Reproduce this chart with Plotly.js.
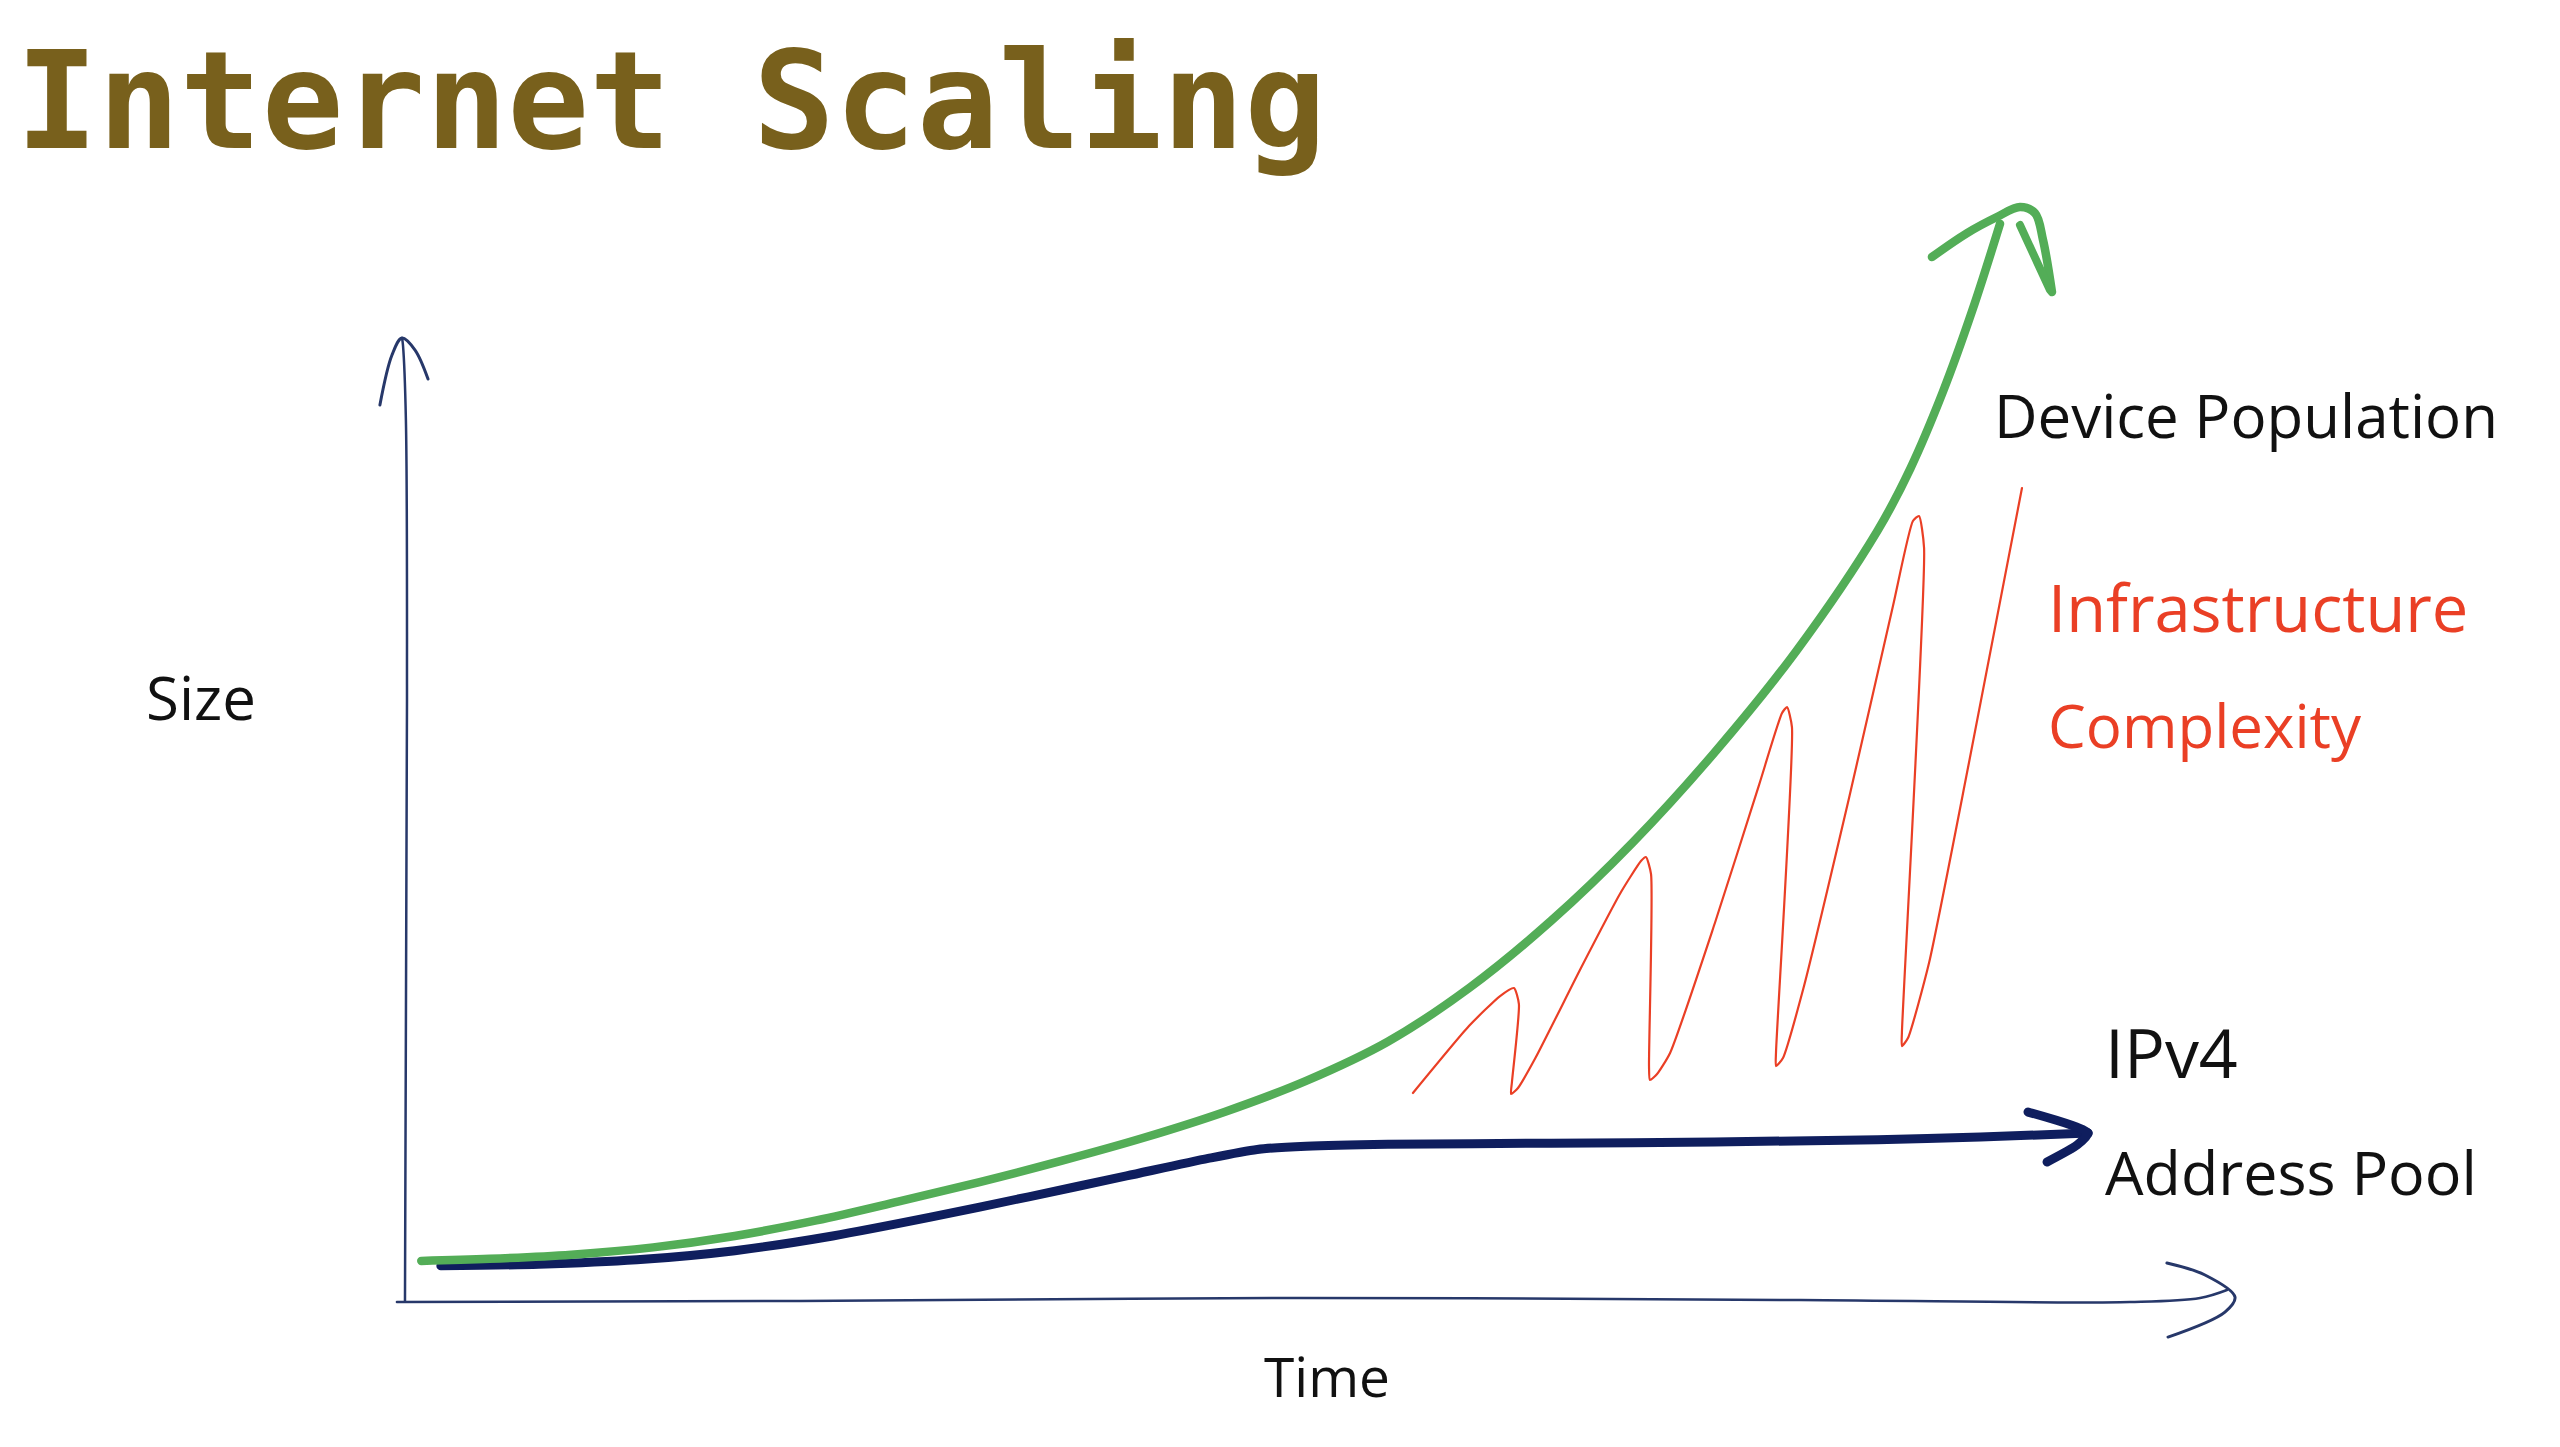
<!DOCTYPE html>
<html>
<head>
<meta charset="utf-8">
<script src="https://cdn.plot.ly/plotly-3.0.1.min.js"></script>
<style>
  html, body { margin: 0; padding: 0; background: #ffffff; }
  #chart { width: 2560px; height: 1447px; }
  .scatterlayer path.js-line { stroke-linecap: round; stroke-linejoin: round; }
</style>
</head>
<body>
<div id="chart"></div>
<script>
// ---- Sketch data (time 0..100 along the x arrow, size 0..100 up the y arrow) ----
const sizeAxisX = [0, 0.11, 0.05, -0.11, -0.16];
const sizeAxisY = [-0.10, 62.37, 91.48, 99.27, 100];
const sizeHeadX = [-1.37, -0.71, -0.16, 0.55, 1.26];
const sizeHeadY = [93.04, 98.23, 100, 98.75, 95.74];

const timeAxisX = [-0.44, 21.58, 48.91, 76.23, 94.26, 98.09, 99.56];
const timeAxisY = [-0.21, -0.10, 0.21, 0, -0.21, 0.21, 1.04];
const timeHeadX = [96.28, 98.36, 100, 99.45, 96.34];
const timeHeadY = [3.85, 2.60, 0.31, -1.25, -3.85];

// Device population (green)
const deviceT = [0.89, 4.63, 9.09, 13.56, 18.02, 22.48, 26.94, 31.40, 35.86, 40.32, 44.78, 49.24, 53.70, 58.16,
  62.63, 67.09, 71.55, 76.01, 80.47, 82.26, 84.04, 85.65, 87.16];
const deviceSize = [4.06, 4.28, 4.71, 5.47, 6.66, 8.27, 10.22, 12.26, 14.46, 16.84, 19.55, 22.78, 26.85, 32.45,
  39.42, 47.56, 56.89, 67.42, 79.98, 86.43, 94.41, 102.89, 111.88];
const deviceHeadX = [83.44, 85.36, 86.99, 88.25, 89.07, 89.51, 90.0];
const deviceHeadY = [108.42, 110.91, 112.58, 113.62, 112.99, 110.19, 104.78];
const deviceInnerX = [88.25, 89.89];
const deviceInnerY = [111.75, 104.99];

// IPv4 address pool (navy)
const ipv4T = [1.96, 7.31, 12.67, 18.02, 23.37, 28.72, 34.08, 39.43, 43.89, 46.57, 49.24, 53.70, 62.63, 71.55, 80.47, 86.09, 91.98];
const ipv4Size = [3.55, 3.72, 4.18, 5.13, 6.66, 8.61, 10.73, 12.90, 14.72, 15.65, 15.99, 16.19, 16.30, 16.43, 16.67, 16.94, 17.35];
const ipv4HeadX = [88.69, 91.97, 91.37, 89.73];
const ipv4HeadY = [19.54, 17.36, 16.11, 14.35];

// Infrastructure complexity (red)
const complexityT = [55.08, 58.14, 59.84, 60.60, 60.87, 60.49, 60.44, 60.82, 61.80, 64.26, 66.45, 67.54, 67.81, 68.09, 67.98, 68.03, 68.42,
  69.13, 71.58, 73.99, 75.25, 75.52, 75.79, 74.92, 74.92, 75.30, 76.45, 78.91, 81.31, 82.40, 82.73, 83.01, 81.80, 81.80, 82.13, 83.28, 85.46, 88.36];
const complexitySize = [21.52, 28.48, 31.60, 32.43, 30.77, 22.66, 21.41, 22.04, 25.26, 34.51, 42.41, 45.63, 46.05, 44.28, 24.32, 22.87, 23.49,
  25.68, 39.19, 53.53, 61.02, 61.64, 59.56, 25.78, 24.32, 25.16, 32.64, 52.18, 72.14, 80.98, 81.50, 78.17, 27.86, 26.40, 27.23, 35.03, 55.82, 84.41];

const labelTexts = ["Device Population", "Infrastructure", "Complexity", "IPv4", "Address Pool", "Size", "Time"];
const labelT = [86.72, 89.67, 89.67, 92.79, 92.79, -11.15, 50.38];
const labelSize = [92.0, 72.04, 59.77, 25.88, 13.41, 62.68, -7.80];

// ---- Styles ----
const AXIS = '#27386a';
const NAVY = '#0f1e5e';
const GREEN = '#53ad57';
const RED = '#ea3f25';
const labelColors = ['#111111', RED, RED, '#111111', '#111111', '#111111', '#111111'];
const labelAnchors = ['left', 'left', 'left', 'left', 'left', 'center', 'center'];
const labelFontSizes = [60, 65, 60, 68, 61, 60, 55];

function line(x, y, color, width, smooth) {
  return {
    type: 'scatter', mode: 'lines', x: x, y: y, hoverinfo: 'skip',
    line: { color: color, width: width, shape: 'spline', smoothing: smooth === undefined ? 1 : smooth }
  };
}

const traces = [
  line(sizeAxisX, sizeAxisY, AXIS, 2.5),
  line(sizeHeadX, sizeHeadY, AXIS, 3),
  line(timeAxisX, timeAxisY, AXIS, 2.5),
  line(timeHeadX, timeHeadY, AXIS, 3),
  line(complexityT, complexitySize, RED, 2.2, 0.55),
  line(ipv4T, ipv4Size, NAVY, 9, 0.7),
  line(ipv4HeadX, ipv4HeadY, NAVY, 9, 0.6),
  line(deviceT, deviceSize, GREEN, 8.5, 1),
  line(deviceHeadX, deviceHeadY, GREEN, 8.5),
  line(deviceInnerX, deviceInnerY, GREEN, 8)
];

const annotations = labelTexts.map((t, i) => ({
  text: t, x: labelT[i], y: labelSize[i], xref: 'x', yref: 'y',
  xanchor: labelAnchors[i], yanchor: 'middle', showarrow: false,
  font: { family: 'Open Sans, sans-serif', size: labelFontSizes[i], color: labelColors[i] }
}));

const layout = {
  width: 2560, height: 1447,
  margin: { l: 0, r: 0, t: 0, b: 0, pad: 0 },
  paper_bgcolor: '#ffffff', plot_bgcolor: '#ffffff',
  showlegend: false,
  title: {
    text: 'Internet Scaling',
    xref: 'container', yref: 'container',
    x: 16 / 2560, xanchor: 'left',
    y: 1 - 100 / 1447, yanchor: 'middle',
    font: { family: 'DejaVu Sans Mono, monospace', size: 136, color: '#78601c', weight: 'bold' }
  },
  xaxis: { range: [-22.13, 117.76], visible: false, fixedrange: true },
  yaxis: { range: [-15.28, 135.14], visible: false, fixedrange: true },
  annotations: annotations
};

Plotly.newPlot('chart', traces, layout, { displayModeBar: false, staticPlot: true });
</script>
</body>
</html>
